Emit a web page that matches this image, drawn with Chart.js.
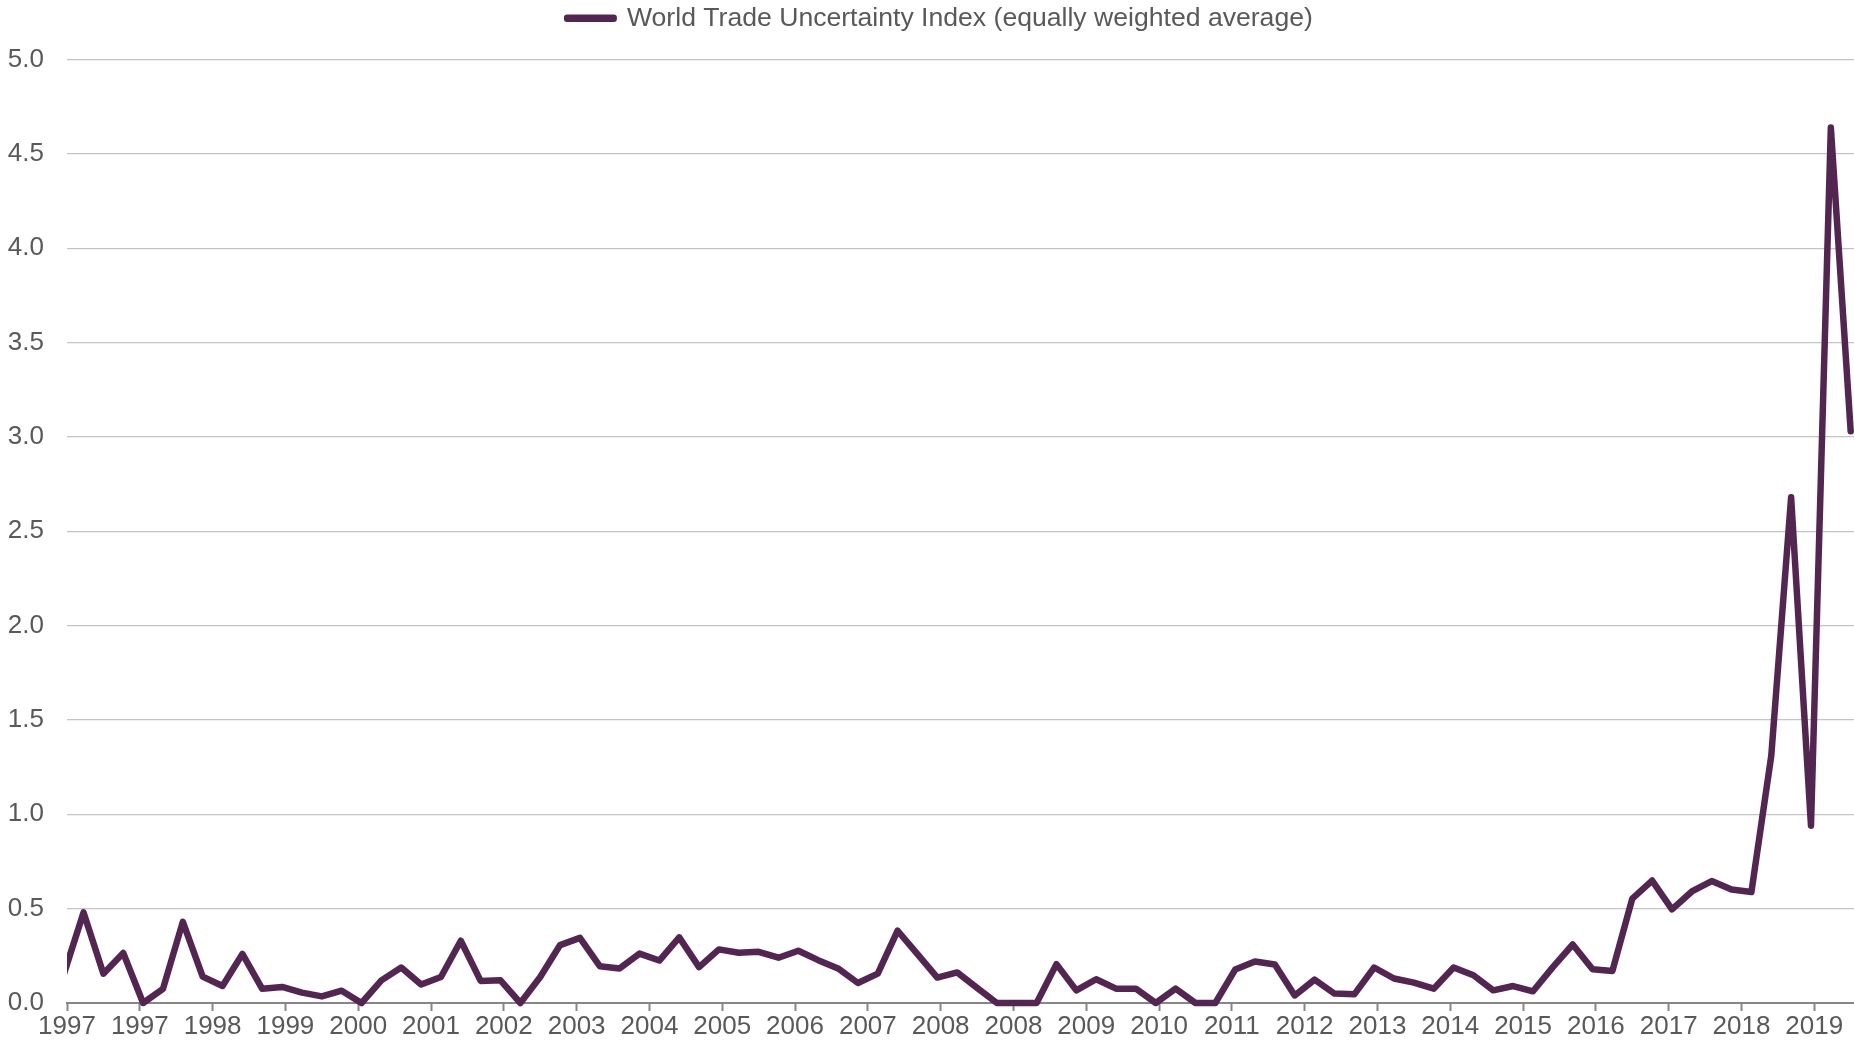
<!DOCTYPE html>
<html>
<head>
<meta charset="utf-8">
<title>World Trade Uncertainty Index</title>
<script src="https://cdn.jsdelivr.net/npm/chart.js@4"></script>
<style>
    html, body { margin: 0; padding: 0; background: #ffffff; }
    #wrap { width: 1854px; height: 1042px; position: relative; }
</style>
</head>
<body>
<div id="wrap"><canvas id="wuiChart"></canvas></div>
<script>
// quarterly observations, 1997Q1 - 2019Q3
const quarters = [
    '1997Q1', '1997Q2', '1997Q3', '1997Q4', '1998Q1', '1998Q2', '1998Q3', '1998Q4',
    '1999Q1', '1999Q2', '1999Q3', '1999Q4', '2000Q1', '2000Q2', '2000Q3', '2000Q4',
    '2001Q1', '2001Q2', '2001Q3', '2001Q4', '2002Q1', '2002Q2', '2002Q3', '2002Q4',
    '2003Q1', '2003Q2', '2003Q3', '2003Q4', '2004Q1', '2004Q2', '2004Q3', '2004Q4',
    '2005Q1', '2005Q2', '2005Q3', '2005Q4', '2006Q1', '2006Q2', '2006Q3', '2006Q4',
    '2007Q1', '2007Q2', '2007Q3', '2007Q4', '2008Q1', '2008Q2', '2008Q3', '2008Q4',
    '2009Q1', '2009Q2', '2009Q3', '2009Q4', '2010Q1', '2010Q2', '2010Q3', '2010Q4',
    '2011Q1', '2011Q2', '2011Q3', '2011Q4', '2012Q1', '2012Q2', '2012Q3', '2012Q4',
    '2013Q1', '2013Q2', '2013Q3', '2013Q4', '2014Q1', '2014Q2', '2014Q3', '2014Q4',
    '2015Q1', '2015Q2', '2015Q3', '2015Q4', '2016Q1', '2016Q2', '2016Q3', '2016Q4',
    '2017Q1', '2017Q2', '2017Q3', '2017Q4', '2018Q1', '2018Q2', '2018Q3', '2018Q4',
    '2019Q1', '2019Q2', '2019Q3'
];

const wuiValues = [
    0.15, 0.48, 0.155, 0.265, 0.0, 0.075, 0.43, 0.14,
    0.09, 0.26, 0.075, 0.085, 0.055, 0.035, 0.065, 0.0,
    0.12, 0.188, 0.098, 0.138, 0.33, 0.117, 0.12, 0.0,
    0.138, 0.307, 0.345, 0.195, 0.183, 0.262, 0.225, 0.348,
    0.19, 0.284, 0.266, 0.271, 0.24, 0.277, 0.227, 0.183,
    0.106, 0.156, 0.383, 0.259, 0.135, 0.162, 0.08, 0.0,
    0.0, 0.0, 0.206, 0.067, 0.126, 0.076, 0.076, 0.0,
    0.076, 0.0, 0.0, 0.177, 0.22, 0.204, 0.04, 0.124,
    0.05, 0.046, 0.188, 0.13, 0.108, 0.076, 0.188, 0.147,
    0.067, 0.09, 0.062, 0.19, 0.31, 0.179, 0.17, 0.553,
    0.649, 0.496, 0.591, 0.646, 0.602, 0.588, 1.31, 2.68,
    0.94, 4.64, 3.03
];

// axis labels as printed under the ticks (one tick every 11 months)
const xTickLabels = [
    '1997', '1997', '1998', '1999', '2000', '2001', '2002', '2003', '2004',
    '2005', '2006', '2007', '2008', '2008', '2009', '2010', '2011', '2012',
    '2013', '2014', '2015', '2016', '2017', '2018', '2019'
];
const seriesName = 'World Trade Uncertainty Index (equally weighted average)';

const FONT = "'Liberation Sans', Arial, sans-serif";
const TEXT = '#595959';
const LINE = '#532651';

// x in months since Jan 1997; the source dates each quarter just before its month start
const points = quarters.map((q, i) => ({ x: i * 3 - 0.5, y: wuiValues[i] }));

// extra gap under the legend, and nudge it a bit to the right
const legendTweak = {
    id: 'legendTweak',
    beforeInit(chart) {
        const origFit = chart.legend.fit;
        chart.legend.fit = function () {
            origFit.bind(chart.legend)();
            this.height += 18;
        };
    },
    afterLayout(chart) {
        chart.legend.left += 10;
        chart.legend.right += 10;
    }
};

new Chart(document.getElementById('wuiChart'), {
    type: 'line',
    data: {
        datasets: [{
            label: seriesName,
            data: points,
            borderColor: LINE,
            backgroundColor: LINE,
            borderWidth: 6.5,
            borderJoinStyle: 'round',
            borderCapStyle: 'round',
            pointRadius: 0,
            tension: 0,
            fill: false,
            clip: { left: 0, top: 5, right: 5, bottom: 5 }
        }]
    },
    options: {
        responsive: true,
        maintainAspectRatio: false,
        animation: false,
        layout: { padding: { left: 6, right: 0, top: 0, bottom: 0 } },
        plugins: {
            legend: {
                position: 'top',
                labels: {
                    color: TEXT,
                    font: { family: FONT, size: 26.6 },
                    boxWidth: 46.5,
                    boxHeight: 1,
                    padding: 5
                }
            },
            tooltip: { enabled: false }
        },
        scales: {
            x: {
                type: 'linear',
                min: 0,
                max: 270,
                grid: {
                    drawOnChartArea: false,
                    drawTicks: true,
                    tickLength: 8,
                    tickWidth: 2,
                    tickColor: '#868686'
                },
                border: { display: true, color: '#868686', width: 2 },
                ticks: {
                    stepSize: 11,
                    includeBounds: false,
                    autoSkip: false,
                    maxRotation: 0,
                    padding: 2.5,
                    color: TEXT,
                    font: { family: FONT, size: 26, lineHeight: 1 },
                    callback: (value, index) => xTickLabels[index]
                }
            },
            y: {
                min: 0,
                max: 5,
                grid: { color: '#c4c4c4', lineWidth: 1.2, drawTicks: false },
                border: { display: false },
                ticks: {
                    stepSize: 0.5,
                    padding: 23,
                    color: TEXT,
                    font: { family: FONT, size: 26, lineHeight: 1 },
                    callback: (value) => value.toFixed(1)
                },
                afterFit: (scale) => { scale.width = 61; }
            }
        }
    },
    plugins: [legendTweak]
});
</script>
</body>
</html>
